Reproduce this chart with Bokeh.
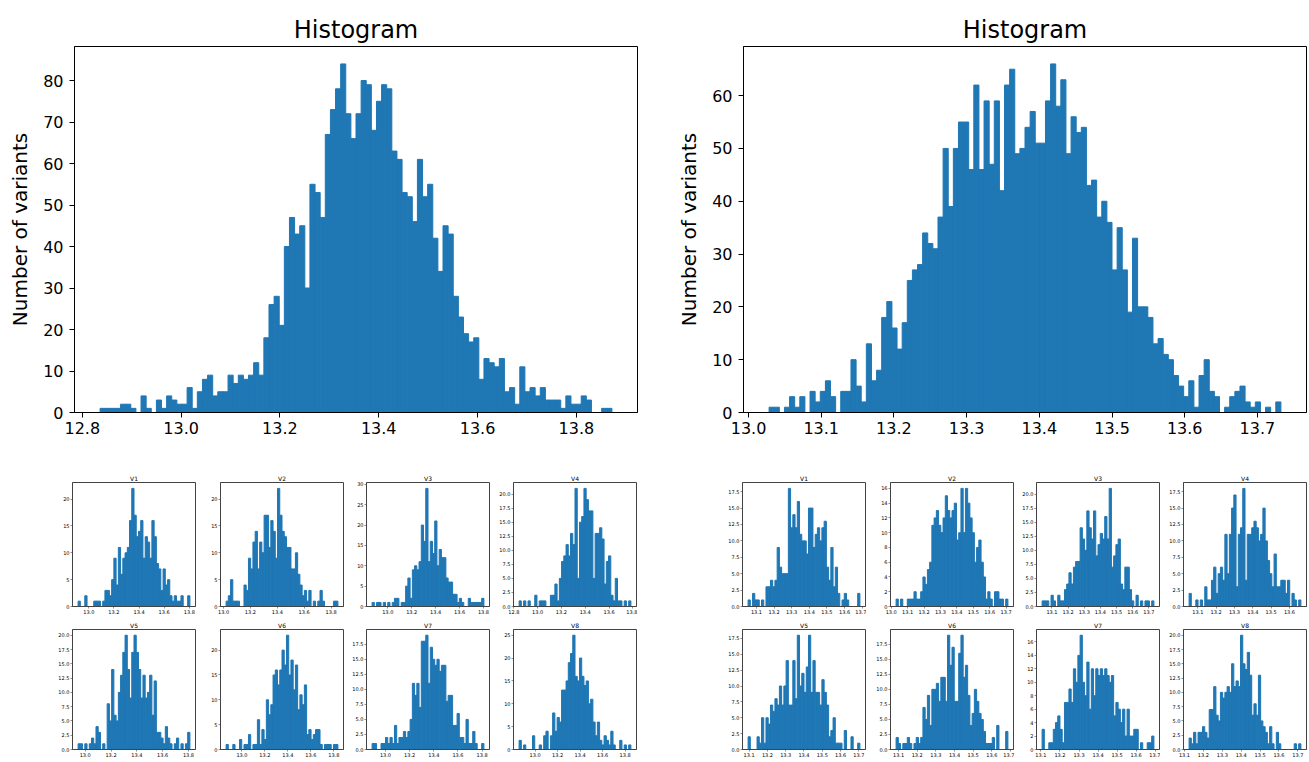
import numpy as np
from bokeh.plotting import figure
from bokeh.models import Range1d, FixedTicker, NumeralTickFormatter
from bokeh.layouts import row, column
from bokeh.embed import file_html
from bokeh.resources import INLINE

BLUE = "#1f77b4"
FONT = "DejaVu Sans"

# ---------------- data ----------------
big_left_range = (12.836, 13.872)
big_left_counts = [1, 1, 1, 1, 2, 2, 1, 0, 4, 1,
                   0, 3, 1, 4, 3, 2, 2, 6, 1, 5,
                   8, 9, 4, 5, 5, 9, 7, 9, 8, 9,
                   12, 9, 18, 26, 28, 21, 40, 47, 43, 45,
                   30, 55, 53, 47, 67, 73, 78, 84, 72, 66,
                   72, 80, 79, 68, 75, 79, 78, 63, 61, 53,
                   52, 46, 61, 52, 55, 42, 34, 45, 43, 28,
                   23, 19, 17, 18, 8, 13, 12, 11, 13, 5,
                   6, 2, 11, 5, 6, 4, 6, 3, 3, 3,
                   1, 4, 2, 2, 4, 3, 0, 0, 1, 1]
big_left_xticks = [12.8, 13.0, 13.2, 13.4, 13.6, 13.8]
big_left_yticks = [0, 10, 20, 30, 40, 50, 60, 70, 80]

big_right_range = (13.0283, 13.7323)
big_right_counts = [1, 1, 0, 1, 3, 1, 3, 0, 4, 2,
                    4, 6, 3, 0, 4, 4, 10, 5, 2, 13,
                    6, 8, 18, 21, 16, 12, 17, 25, 27, 28,
                    34, 32, 31, 37, 50, 39, 50, 55, 55, 46,
                    62, 46, 59, 47, 59, 42, 62, 65, 49, 50,
                    54, 57, 51, 51, 59, 66, 58, 63, 49, 56,
                    53, 54, 43, 44, 37, 40, 36, 27, 35, 27,
                    19, 33, 20, 20, 18, 13, 14, 11, 10, 7,
                    5, 3, 6, 1, 7, 10, 4, 3, 0, 1,
                    3, 4, 5, 2, 1, 2, 0, 1, 0, 2]
big_right_xticks = [13.0, 13.1, 13.2, 13.3, 13.4, 13.5, 13.6, 13.7]
big_right_yticks = [0, 10, 20, 30, 40, 50, 60]

names = ["V1", "V2", "V3", "V4", "V5", "V6", "V7", "V8"]

left_ranges = [(12.915, 13.805), (13.019, 13.851), (12.869, 13.8035), (12.844, 13.784),
               (12.945, 13.811), (12.8615, 13.836), (12.889, 13.815), (12.857, 13.851)]
left_counts = [
    [1, 0, 0, 2, 0, 0, 0, 1, 1, 1, 0, 1, 3, 3, 2, 5, 9, 4, 11, 6, 9, 10, 11, 16, 22, 17, 13, 14, 16, 9,
     13, 12, 9, 16, 13, 8, 7, 3, 7, 4, 5, 2, 1, 2, 1, 1, 2, 0, 0, 2],
    [1, 2, 5, 1, 1, 1, 0, 0, 4, 3, 9, 7, 12, 14, 7, 12, 10, 17, 17, 11, 16, 14, 9, 22, 17, 14, 13, 11, 11, 7,
     7, 10, 6, 4, 2, 3, 1, 3, 0, 1, 0, 1, 3, 1, 0, 0, 0, 0, 1, 1],
    [1, 0, 1, 1, 0, 1, 0, 1, 0, 1, 2, 2, 0, 1, 1, 5, 7, 2, 9, 10, 9, 11, 20, 16, 29, 11, 16, 13, 21, 10,
     14, 12, 12, 7, 6, 6, 3, 3, 1, 2, 1, 0, 0, 2, 1, 1, 1, 1, 1, 2],
    [1, 0, 1, 0, 1, 0, 0, 2, 0, 1, 1, 1, 0, 0, 2, 2, 4, 1, 5, 8, 9, 11, 9, 13, 11, 21, 5, 15, 16, 21,
     19, 17, 17, 5, 13, 13, 14, 12, 4, 8, 9, 2, 1, 5, 1, 1, 0, 1, 0, 1],
    [1, 1, 0, 1, 0, 1, 2, 1, 4, 3, 0, 1, 0, 8, 5, 14, 6, 5, 10, 13, 17, 20, 14, 9, 17, 20, 17, 14, 9, 13,
     9, 10, 13, 6, 12, 3, 3, 2, 1, 4, 2, 1, 0, 1, 2, 0, 1, 0, 1, 3],
    [1, 0, 0, 1, 0, 0, 2, 0, 1, 1, 3, 0, 1, 1, 6, 1, 4, 2, 10, 7, 9, 15, 16, 13, 16, 20, 17, 23, 15, 18,
     12, 17, 8, 11, 9, 13, 3, 4, 2, 3, 4, 4, 1, 0, 1, 1, 1, 0, 1, 1],
    [1, 1, 0, 0, 1, 1, 2, 1, 2, 1, 4, 1, 2, 2, 3, 2, 3, 5, 11, 9, 11, 7, 18, 18, 19, 11, 17, 15, 14, 15,
     13, 14, 14, 8, 9, 9, 4, 4, 6, 2, 2, 1, 5, 1, 1, 3, 1, 0, 0, 1],
    [2, 0, 1, 0, 0, 0, 3, 0, 0, 1, 0, 3, 4, 0, 3, 8, 4, 7, 6, 13, 13, 15, 19, 21, 25, 16, 15, 20, 16, 14,
     15, 10, 11, 6, 3, 6, 2, 1, 3, 2, 1, 4, 1, 0, 0, 2, 0, 1, 0, 1],
]
left_xticks = [
    [13.0, 13.2, 13.4, 13.6, 13.8], [13.0, 13.2, 13.4, 13.6, 13.8],
    [13.0, 13.2, 13.4, 13.6, 13.8], [12.8, 13.0, 13.2, 13.4, 13.6, 13.8],
    [13.0, 13.2, 13.4, 13.6, 13.8], [13.0, 13.2, 13.4, 13.6, 13.8],
    [13.0, 13.2, 13.4, 13.6, 13.8], [13.0, 13.2, 13.4, 13.6, 13.8],
]
left_yticks = [
    [0, 5, 10, 15, 20], [0, 5, 10, 15, 20], [0, 5, 10, 15, 20, 25, 30],
    [0.0, 2.5, 5.0, 7.5, 10.0, 12.5, 15.0, 17.5, 20.0],
    [0.0, 2.5, 5.0, 7.5, 10.0, 12.5, 15.0, 17.5, 20.0],
    [0, 5, 10, 15, 20], [0.0, 2.5, 5.0, 7.5, 10.0, 12.5, 15.0, 17.5], [0, 5, 10, 15, 20, 25],
]
left_yfmt = ["0", "0", "0", "0.0", "0.0", "0", "0.0", "0"]

right_ranges = [(13.0525, 13.6873), (13.0297, 13.7107), (13.039, 13.731), (13.0525, 13.6625),
                (13.0941, 13.706), (13.0868, 13.6863), (13.1062, 13.6932), (13.1243, 13.716)]
right_counts = [
    [1, 0, 2, 1, 1, 0, 1, 0, 3, 3, 4, 3, 4, 9, 6, 5, 5, 5, 18, 12, 14, 12, 16, 11, 10, 10, 8, 15, 15, 9,
     11, 12, 10, 12, 13, 6, 4, 9, 3, 6, 2, 0, 1, 2, 1, 0, 0, 0, 0, 2],
    [1, 0, 1, 0, 0, 1, 1, 1, 2, 1, 1, 2, 4, 3, 5, 6, 11, 12, 13, 11, 10, 12, 15, 13, 12, 13, 14, 9, 10, 16,
     10, 16, 14, 12, 10, 6, 8, 9, 6, 4, 1, 2, 1, 0, 2, 2, 1, 1, 0, 1],
    [1, 1, 1, 0, 2, 1, 0, 2, 1, 1, 3, 4, 6, 4, 7, 8, 8, 14, 12, 10, 17, 14, 12, 17, 9, 11, 13, 12, 16, 12,
     21, 7, 9, 11, 12, 4, 3, 7, 7, 3, 1, 0, 2, 0, 1, 0, 1, 1, 0, 1],
    [2, 0, 0, 1, 0, 1, 0, 3, 1, 1, 4, 6, 2, 5, 6, 4, 11, 5, 11, 15, 17, 3, 11, 12, 18, 4, 11, 11, 12, 13,
     12, 10, 11, 15, 10, 7, 5, 3, 8, 3, 3, 4, 4, 2, 4, 0, 2, 1, 0, 1],
    [2, 0, 0, 0, 2, 1, 5, 1, 5, 4, 7, 6, 8, 7, 10, 7, 10, 14, 7, 7, 14, 8, 18, 10, 12, 9, 13, 18, 9, 14,
     9, 9, 7, 11, 9, 7, 2, 3, 5, 1, 1, 1, 0, 3, 0, 0, 2, 0, 0, 1],
    [2, 1, 0, 1, 1, 2, 1, 0, 1, 2, 1, 2, 7, 5, 9, 4, 10, 10, 11, 8, 12, 12, 8, 19, 14, 17, 8, 8, 16, 19,
     12, 14, 9, 4, 6, 10, 8, 6, 5, 3, 1, 1, 1, 2, 0, 4, 0, 0, 0, 3],
    [3, 0, 0, 1, 1, 3, 4, 5, 3, 1, 7, 7, 9, 7, 12, 10, 14, 17, 10, 8, 13, 6, 12, 8, 12, 11, 12, 11, 12, 11,
     10, 11, 5, 7, 6, 4, 6, 2, 6, 2, 2, 3, 3, 0, 1, 0, 0, 1, 1, 2],
    [2, 1, 3, 1, 3, 3, 4, 3, 2, 7, 7, 11, 6, 5, 10, 9, 10, 11, 10, 15, 11, 12, 11, 20, 15, 14, 17, 13, 6, 8,
     6, 13, 5, 4, 3, 1, 4, 1, 0, 3, 1, 0, 0, 0, 0, 0, 0, 1, 0, 1],
]
right_xticks = [
    [13.1, 13.2, 13.3, 13.4, 13.5, 13.6, 13.7], [13.0, 13.1, 13.2, 13.3, 13.4, 13.5, 13.6, 13.7],
    [13.1, 13.2, 13.3, 13.4, 13.5, 13.6, 13.7], [13.1, 13.2, 13.3, 13.4, 13.5, 13.6, 13.7],
    [13.1, 13.2, 13.3, 13.4, 13.5, 13.6, 13.7], [13.1, 13.2, 13.3, 13.4, 13.5, 13.6, 13.7],
    [13.1, 13.2, 13.3, 13.4, 13.5, 13.6, 13.7], [13.1, 13.2, 13.3, 13.4, 13.5, 13.6, 13.7],
]
right_yticks = [
    [0.0, 2.5, 5.0, 7.5, 10.0, 12.5, 15.0, 17.5], [0, 2, 4, 6, 8, 10, 12, 14, 16],
    [0.0, 2.5, 5.0, 7.5, 10.0, 12.5, 15.0, 17.5, 20.0], [0.0, 2.5, 5.0, 7.5, 10.0, 12.5, 15.0, 17.5],
    [0.0, 2.5, 5.0, 7.5, 10.0, 12.5, 15.0, 17.5], [0.0, 2.5, 5.0, 7.5, 10.0, 12.5, 15.0, 17.5],
    [0, 2, 4, 6, 8, 10, 12, 14, 16], [0.0, 2.5, 5.0, 7.5, 10.0, 12.5, 15.0, 17.5, 20.0],
]
right_yfmt = ["0.0", "0", "0.0", "0.0", "0.0", "0.0", "0", "0.0"]


# ---------------- helpers ----------------
def hist_figure(counts, rng, xticks, yticks, yfmt, frame_w, frame_h,
                bl, br, bt, bb, title, big):
    lo, hi = rng
    n = len(counts)
    edges = np.linspace(lo, hi, n + 1)
    pad = 0.05 * (hi - lo)
    p = figure(frame_width=frame_w, frame_height=frame_h,
               x_range=Range1d(lo - pad, hi + pad),
               y_range=Range1d(0, 1.05 * max(counts)),
               output_backend="svg", toolbar_location=None,
               min_border_left=bl, min_border_right=br,
               min_border_top=bt, min_border_bottom=bb,
               background_fill_color="white", border_fill_color="white")
    p.quad(left=edges[:-1], right=edges[1:], bottom=0, top=counts,
           fill_color=BLUE, line_color=BLUE, line_width=1)
    p.xgrid.visible = False
    p.ygrid.visible = False
    p.outline_line_color = "black"
    p.outline_line_width = 1
    p.title.text = title
    p.title.align = "center"
    p.title.text_font = FONT
    p.title.text_font_style = "normal"
    p.title.text_color = "black"
    for ax, ticks, fmt in ((p.xaxis[0], xticks, "0.0"), (p.yaxis[0], yticks, yfmt)):
        ax.ticker = FixedTicker(ticks=ticks, minor_ticks=[])
        ax.formatter = NumeralTickFormatter(format=fmt)
        ax.axis_line_color = "black"
        ax.major_tick_line_color = "black"
        ax.major_tick_in = 0
        ax.minor_tick_line_color = None
        ax.major_label_text_font = FONT
        ax.major_label_text_color = "black"
    if big:
        p.title.text_font_size = "24px"
        p.title.standoff = 6
        for ax in (p.xaxis[0], p.yaxis[0]):
            ax.major_tick_out = 5
            ax.major_label_text_font_size = "16px"
        p.xaxis.major_label_standoff = 4
        p.yaxis.major_label_standoff = 6
        p.yaxis.axis_label = "Number of variants"
        p.yaxis.axis_label_text_font = FONT
        p.yaxis.axis_label_text_font_size = "20px"
        p.yaxis.axis_label_text_font_style = "normal"
        p.yaxis.axis_label_text_color = "black"
        p.yaxis.axis_label_standoff = 8
    else:
        p.title.text_font_size = "6px"
        p.title.standoff = 2
        p.outline_line_color = "#444444"
        for ax in (p.xaxis[0], p.yaxis[0]):
            ax.major_tick_out = 2
            ax.major_label_standoff = 1
            ax.major_label_text_font_size = "5px"
            ax.axis_line_color = "#444444"
            ax.major_tick_line_color = "#444444"
            ax.major_tick_line_width = 0.6
    return p


big_l = hist_figure(big_left_counts, big_left_range, big_left_xticks, big_left_yticks, "0",
                    563, 366, 74, 10, 46, 58, "Histogram", True)
big_r = hist_figure(big_right_counts, big_right_range, big_right_xticks, big_right_yticks, "0",
                    563, 366, 96, 1, 46, 58, "Histogram", True)

# small panels: frame left (layout px) and widths
frame_lefts = [72, 220, 366, 513, 742, 890, 1036, 1183]
FRAME_W = 123


def small_row(indices, frame_h, top, bottom):
    figs = []
    prev_end = 0
    for col, (grp, k) in enumerate(indices):
        if grp == "L":
            counts, rng, xt, yt, yf = left_counts[k], left_ranges[k], left_xticks[k], left_yticks[k], left_yfmt[k]
        else:
            counts, rng, xt, yt, yf = right_counts[k], right_ranges[k], right_xticks[k], right_yticks[k], right_yfmt[k]
        bl = frame_lefts[col] - prev_end
        f = hist_figure(counts, rng, xt, yt, yf, FRAME_W, frame_h,
                        bl, 1, top, bottom, names[k], False)
        prev_end = frame_lefts[col] + FRAME_W + 1
        figs.append(f)
    return row(*figs)


row1 = small_row([("L", 0), ("L", 1), ("L", 2), ("L", 3), ("R", 0), ("R", 1), ("R", 2), ("R", 3)],
                 124, 12, 10)
row2 = small_row([("L", 4), ("L", 5), ("L", 6), ("L", 7), ("R", 4), ("R", 5), ("R", 6), ("R", 7)],
                 120, 13, 10)

layout = column(row(big_l, big_r), row1, row2)

open("out.html", "w").write(file_html(layout, INLINE))
